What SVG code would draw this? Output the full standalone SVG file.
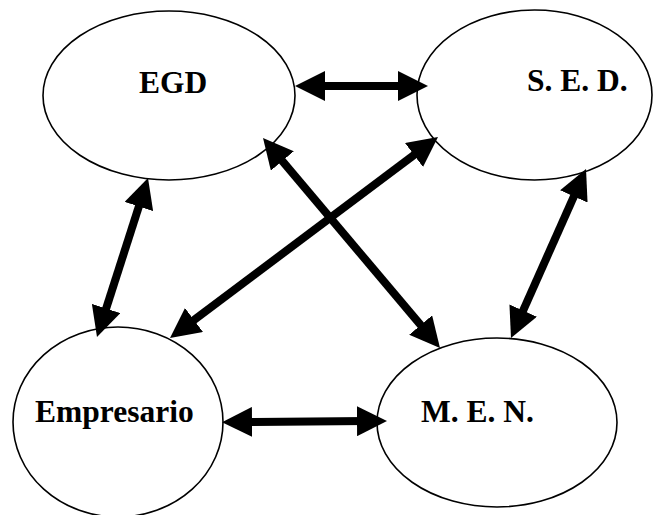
<svg xmlns="http://www.w3.org/2000/svg" width="658" height="515" viewBox="0 0 658 515">
  <style>
    .node ellipse { fill: #ffffff; stroke: #000000; stroke-width: 1.6; }
    .node text { font-family: "Liberation Serif", "Times New Roman", serif; font-weight: bold; font-size: 31.5px; fill: #000000; }
    .links line { stroke: #000000; stroke-width: 8; marker-start: url(#head); marker-end: url(#head); }
  </style>
  <defs>
    <marker id="head" markerUnits="userSpaceOnUse" markerWidth="30" markerHeight="30" refX="10" refY="15" orient="auto-start-reverse">
      <path d="M0,0 L30,15 L0,30 Z" fill="#000000"/>
    </marker>
  </defs>
  <rect width="658" height="515" fill="#ffffff"/>

  <g id="egd" class="node">
    <ellipse cx="169" cy="95.5" rx="126" ry="84.5"/>
    <text x="139" y="93">EGD</text>
  </g>
  <g id="sed" class="node">
    <ellipse cx="534.5" cy="95" rx="117.5" ry="85"/>
    <text x="527" y="90.5">S. E. D.</text>
  </g>
  <g id="empresario" class="node">
    <ellipse cx="118" cy="422" rx="105" ry="95"/>
    <text x="35" y="422">Empresario</text>
  </g>
  <g id="men" class="node">
    <ellipse cx="497" cy="422.5" rx="120" ry="84.5"/>
    <text x="421" y="422">M. E. N.</text>
  </g>

  <!-- double-headed connectors between the four parties -->
  <g id="connectors" class="links">
    <line x1="315" y1="86" x2="408" y2="86"/>
    <line x1="141.9" y1="197" x2="103.1" y2="318"/>
    <line x1="275.9" y1="153.3" x2="427.1" y2="332.7"/>
    <line x1="422" y1="149" x2="186" y2="326"/>
    <line x1="577.9" y1="187.3" x2="519.1" y2="319.7"/>
    <line x1="242" y1="422" x2="367" y2="421.1"/>
  </g>
</svg>
